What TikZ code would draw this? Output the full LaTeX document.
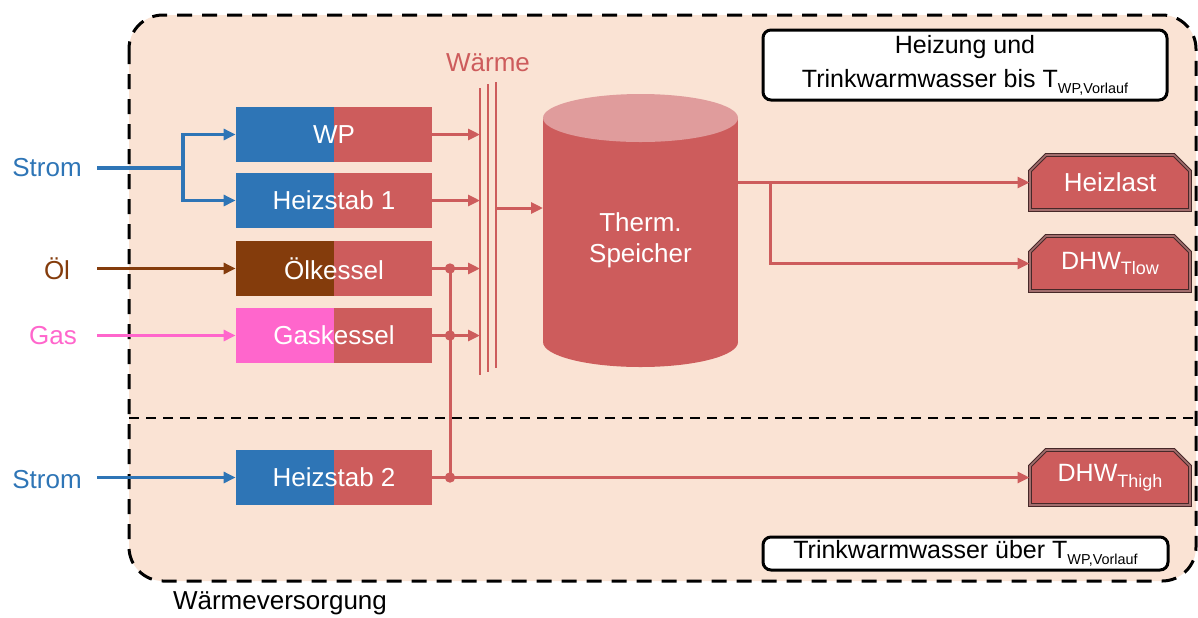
\documentclass[tikz,border=0pt]{standalone}
\usepackage{fontspec}
\setmainfont{Liberation Sans}
\usetikzlibrary{arrows.meta,shapes.misc}
\definecolor{peach}{RGB}{250,227,212}
\definecolor{heat}{RGB}{205,92,92}
\definecolor{heattop}{RGB}{224,156,156}
\definecolor{elec}{RGB}{46,117,182}
\definecolor{oil}{RGB}{132,60,12}
\definecolor{gas}{RGB}{255,102,204}
\definecolor{rim}{RGB}{70,40,40}
\newcommand\tsub[2]{\raisebox{-0.45ex}{\fontsize{#1}{#1}\selectfont #2}}

\begin{document}
\begin{tikzpicture}[x=0.5pt,y=-0.5pt,
  font=\fontsize{13}{15.5}\selectfont,
  block/.style={minimum width=98pt,minimum height=27.5pt,inner sep=0pt,fill=heat,text=white,
    path picture={\fill[#1] (path picture bounding box.south west) rectangle (path picture bounding box.north);}},
  load/.style={chamfered rectangle,chamfered rectangle corners={north west,north east},
    chamfered rectangle xsep=4pt,chamfered rectangle ysep=4pt,minimum width=80pt,minimum height=27.5pt,
    inner sep=0pt,fill=heat,text=white,draw=rim,double=heattop!60!rim,double distance=0.8pt,line width=0.5pt},
  legend/.style={draw,line width=1.5pt,rounded corners=4pt,fill=white,inner sep=0pt,align=center,
    font=\fontsize{12.5}{17}\selectfont},
  hot/.style={heat,line width=1.5pt},
  hotarr/.style={hot,-{Triangle[length=6pt,width=5.5pt]}},
  src/.style={line width=1.6pt,-{Triangle[length=6pt,width=5.5pt]}}]
  \useasboundingbox (0,0) rectangle (1198,617);
  % Rahmen
  \draw[line width=1.5pt,dash pattern=on 7.5pt off 5pt,fill=peach,rounded corners=17pt]
    (129,15) rectangle (1196,581);
  \draw[line width=1pt,dash pattern=on 5pt off 3.5pt] (129,418) -- (1196,418);
  \node at (280,603) {Wärmeversorgung};
  \node[legend,minimum width=202pt,minimum height=35pt] (lgtop) at (965,65)
    {Heizung und\\Trinkwarmwasser bis T\tsub{7.2}{WP,Vorlauf}};
  \node[legend,minimum width=202.5pt,minimum height=16.5pt] (lgbot) at (965.5,553.5)
    {Trinkwarmwasser über T\tsub{7.2}{WP,Vorlauf}};
  % Erzeuger
  \node[block=elec] (wp) at (334,134.5) {WP};
  \node[block=elec] (hs1) at (334,200.5) {Heizstab 1};
  \node[block=oil] (oel) at (334,268.5) {Ölkessel};
  \node[block=gas] (gas) at (334,335.5) {Gaskessel};
  \node[block=elec] (hs2) at (334,477.5) {Heizstab 2};
  % Quellen
  \coordinate (src) at (97,0);
  \coordinate (fork1) at (183,168);
  \node[text=elec] (strom1) at (47,168) {Strom};
  \node[text=oil] (oelin) at (57,268.5) {Öl};
  \node[text=gas] (gasin) at (53,335.5) {Gas};
  \node[text=elec] (strom2) at (47,480) {Strom};
  \draw[elec,line width=1.6pt] (src |- strom1) -- (fork1);
  \draw[src,elec] (fork1) |- (wp.west);
  \draw[src,elec] (fork1) |- (hs1.west);
  \draw[src,oil] (src |- oel.west) -- (oel.west);
  \draw[src,gas] (src |- gas.west) -- (gas.west);
  \draw[src,elec] (src |- hs2.west) -- (hs2.west);
  % Waerme-Sammelschiene
  \node[text=heat] at (488,63) {Wärme};
  \coordinate (bar1) at (480,88);
  \coordinate (bar2) at (488,84);
  \coordinate (bar3) at (496,82);
  \draw[heat,line width=1.3pt] (bar1) -- (480,375) (bar2) -- (488,372) (bar3) -- (496,368);
  \draw[hotarr] (wp.east) -- (wp.east -| bar1);
  \draw[hotarr] (hs1.east) -- (hs1.east -| bar1);
  \draw[hotarr] (oel.east) -- (oel.east -| bar1);
  \draw[hotarr] (gas.east) -- (gas.east -| bar1);
  \coordinate (tap) at (450,0);
  \draw[hot] (tap |- oel.east) -- (tap |- hs2.east);
  \foreach \b in {oel,gas,hs2} \fill[heat] (tap |- \b.east) circle (2.6pt);
  % Speicher
  \fill[heat] (543,118) rectangle (738,342);
  \fill[heat] (640.5,342) ellipse (97.5 and 25);
  \fill[heattop] (640.5,118) ellipse (97.5 and 24);
  \node[text=white,align=center] (tank) at (640.5,240) {Therm.\\Speicher};
  \coordinate (tankin) at (543,208);
  \coordinate (tankout) at (738,182.5);
  \coordinate (fork2) at (770,182.5);
  \draw[hotarr] (bar3 |- tankin) -- (tankin);
  % Verbraucher
  \node[load] (heiz) at (1110,182.5) {Heizlast};
  \node[load,font=\fontsize{12.5}{15}\selectfont] (dhwlow) at (1110,263.5) {DHW\tsub{9}{Tlow}};
  \node[load,font=\fontsize{12.5}{15}\selectfont] (dhwhigh) at (1110,477.5) {DHW\tsub{9}{Thigh}};
  \draw[hotarr] (tankout) -- (heiz.west);
  \draw[hotarr] (fork2) |- (dhwlow.west);
  \draw[hotarr] (hs2.east) -- (dhwhigh.west);
\end{tikzpicture}
\end{document}
